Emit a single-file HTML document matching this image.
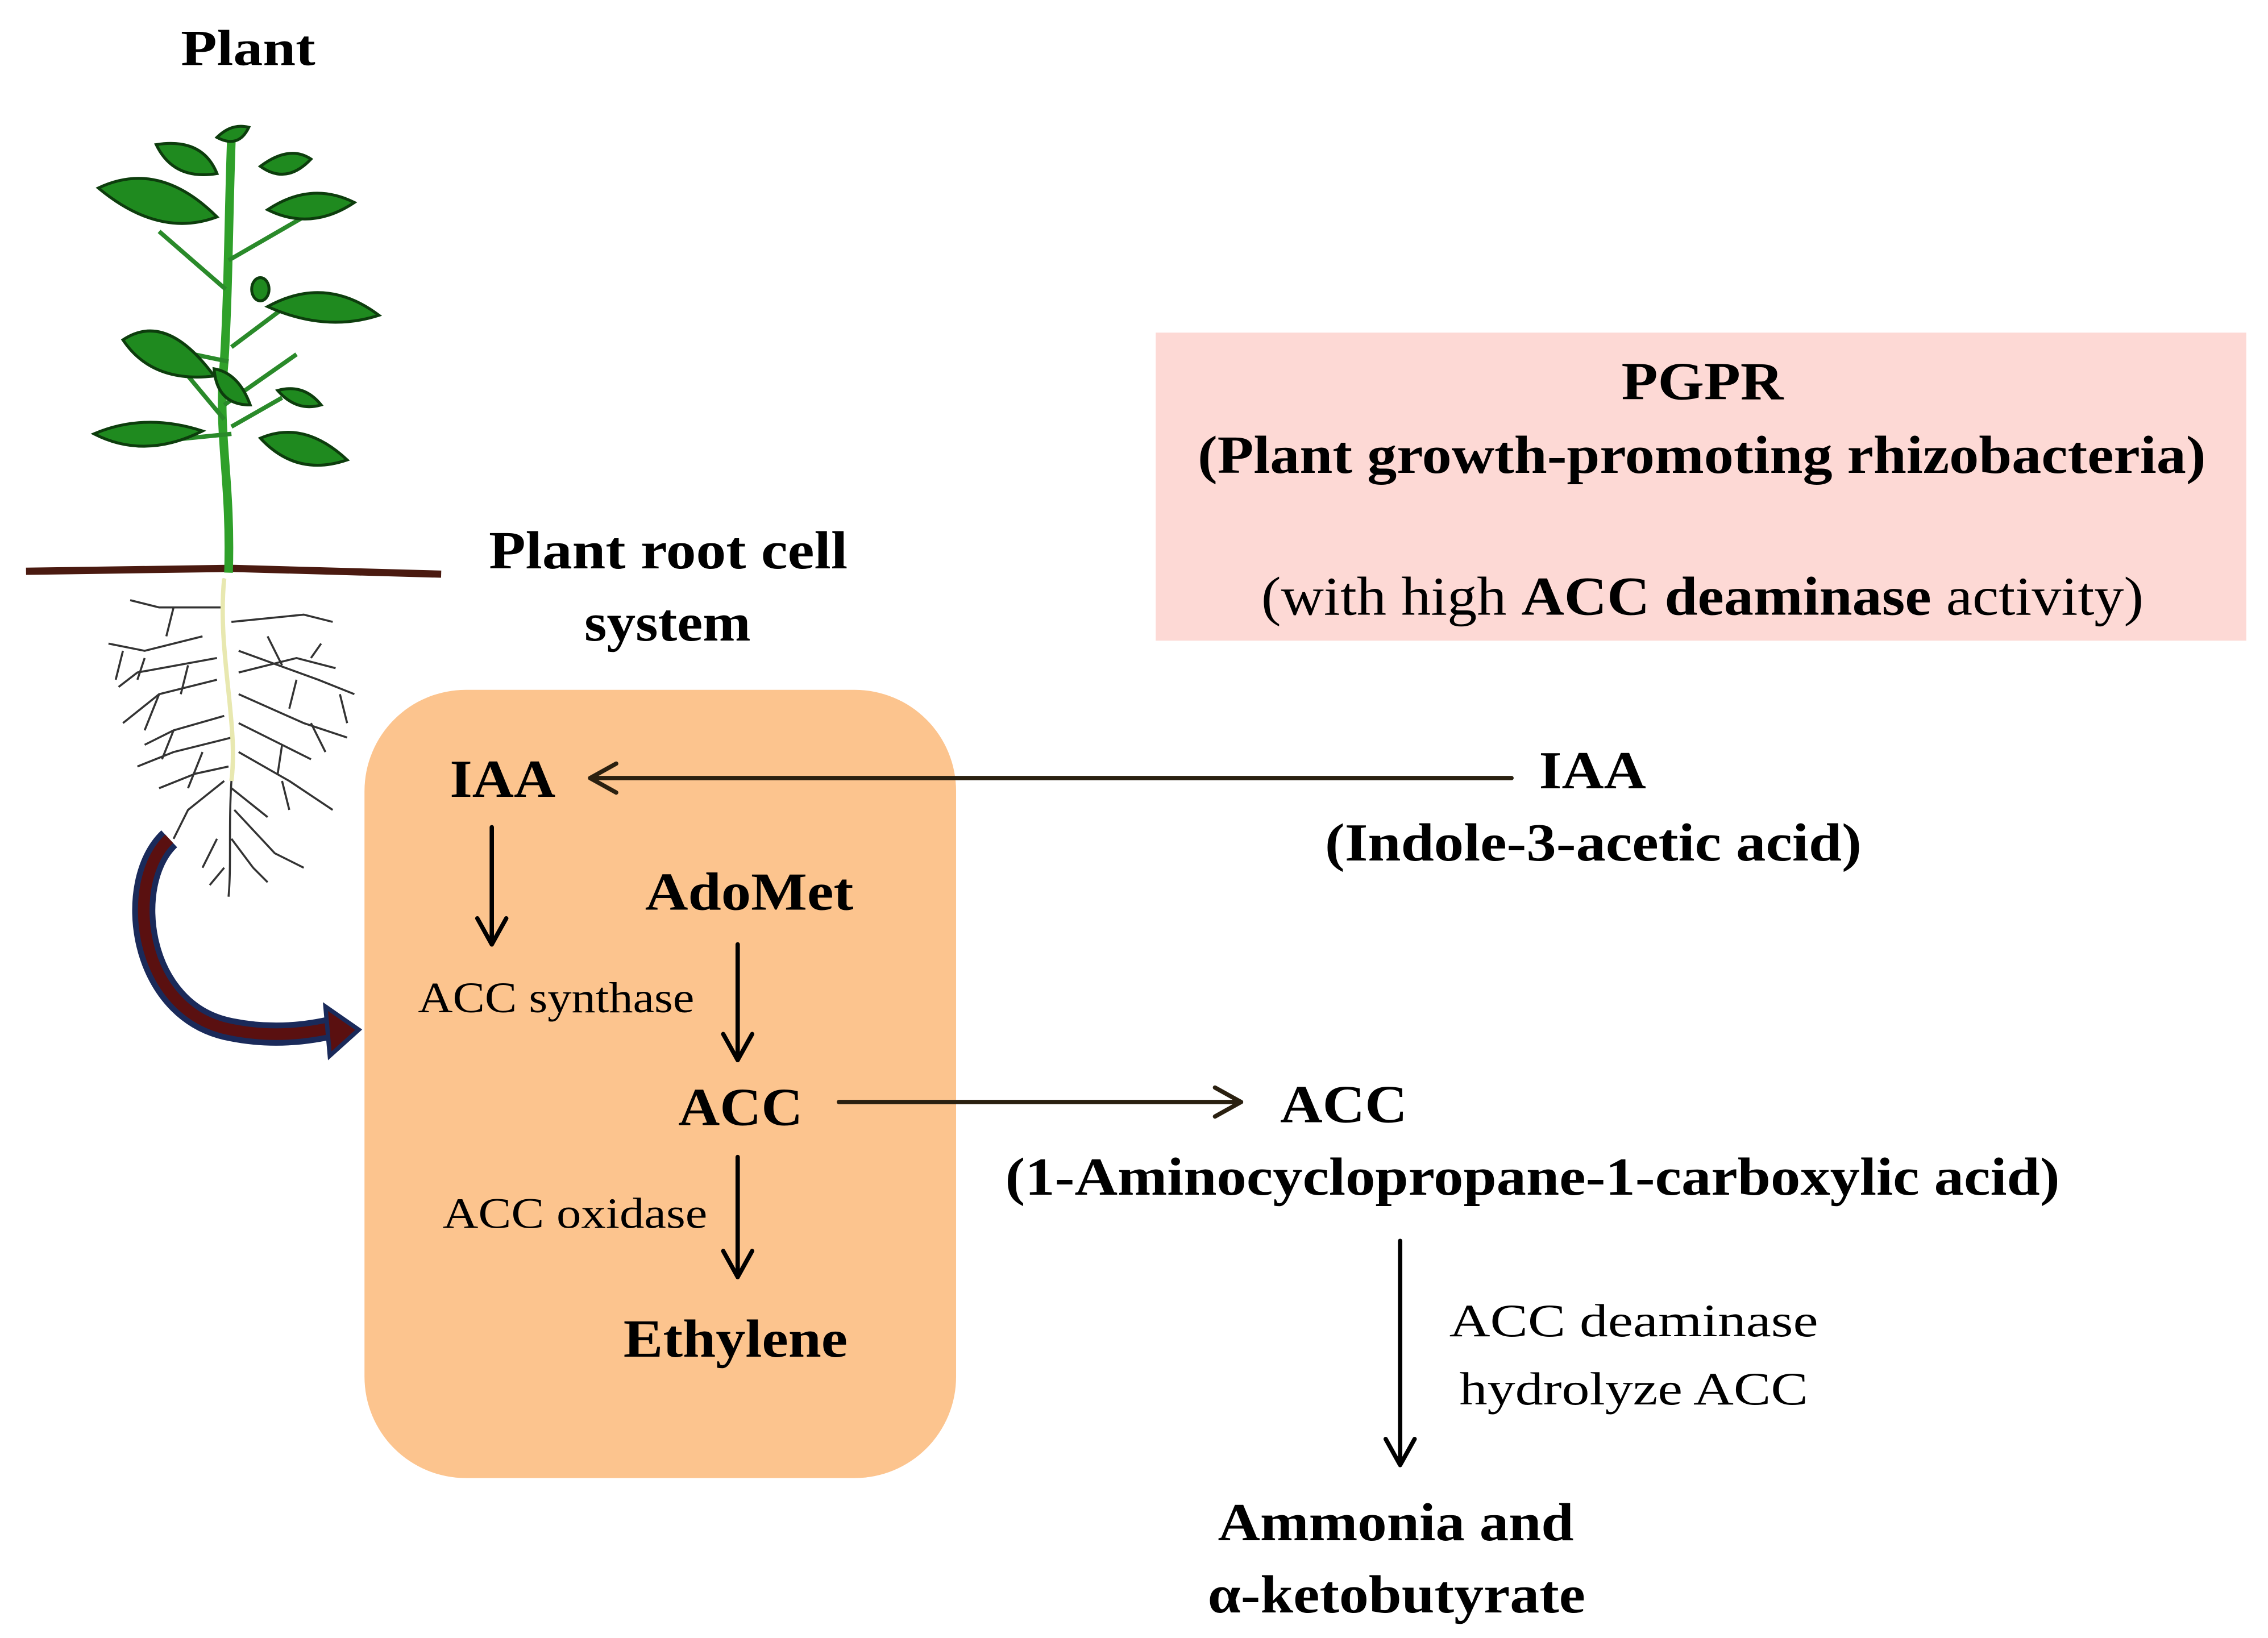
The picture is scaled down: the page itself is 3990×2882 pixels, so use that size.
<!DOCTYPE html>
<html><head><meta charset="utf-8"><style>
html,body{margin:0;padding:0;background:#fff;}
svg{display:block;}
text{font-family:"Liberation Serif",serif;fill:#000;}
.b{font-weight:bold;font-size:37px;}
.r{font-size:30px;}
.big{font-size:38px;}
</style></head><body>
<svg width="3990" height="2882" viewBox="0 0 1568 1132.6" preserveAspectRatio="none" xmlns="http://www.w3.org/2000/svg">
<rect x="799" y="230" width="754" height="213" fill="#fdd9d5"/>
<rect x="252" y="477" width="409" height="545" rx="70" ry="70" fill="#fcc48e"/>

<text x="125" y="45" class="b" style="font-size:35px" textLength="93" lengthAdjust="spacingAndGlyphs">Plant</text>
<text x="338" y="393" class="b" textLength="248" lengthAdjust="spacingAndGlyphs">Plant root cell</text>
<text x="404" y="443" class="b" textLength="115" lengthAdjust="spacingAndGlyphs">system</text>

<text x="1121" y="276" class="b" textLength="112" lengthAdjust="spacingAndGlyphs">PGPR</text>
<text x="828" y="327" class="b" textLength="697" lengthAdjust="spacingAndGlyphs">(Plant growth-promoting rhizobacteria)</text>
<text x="872" y="425" class="big" textLength="610" lengthAdjust="spacingAndGlyphs">(with high <tspan font-weight="bold">ACC deaminase</tspan> activity)</text>

<text x="311" y="551" class="b" textLength="73" lengthAdjust="spacingAndGlyphs">IAA</text>
<text x="446" y="629" class="b" textLength="144" lengthAdjust="spacingAndGlyphs">AdoMet</text>
<text x="289" y="700" class="r" textLength="191" lengthAdjust="spacingAndGlyphs">ACC synthase</text>
<text x="469" y="778" class="b" textLength="86" lengthAdjust="spacingAndGlyphs">ACC</text>
<text x="306" y="849" class="r" textLength="183" lengthAdjust="spacingAndGlyphs">ACC oxidase</text>
<text x="431" y="938" class="b" textLength="155" lengthAdjust="spacingAndGlyphs">Ethylene</text>

<text x="1064" y="545" class="b" textLength="74" lengthAdjust="spacingAndGlyphs">IAA</text>
<text x="916" y="595" class="b" textLength="371" lengthAdjust="spacingAndGlyphs">(Indole-3-acetic acid)</text>
<text x="885" y="776" class="b" textLength="88" lengthAdjust="spacingAndGlyphs">ACC</text>
<text x="695" y="826" class="b" textLength="729" lengthAdjust="spacingAndGlyphs">(1-Aminocyclopropane-1-carboxylic acid)</text>
<text x="1002" y="924" class="r" style="font-size:32px" textLength="255" lengthAdjust="spacingAndGlyphs">ACC deaminase</text>
<text x="1009" y="971" class="r" style="font-size:32px" textLength="241" lengthAdjust="spacingAndGlyphs">hydrolyze ACC</text>
<text x="842" y="1065" class="b" textLength="246" lengthAdjust="spacingAndGlyphs">Ammonia and</text>
<text x="835" y="1115" class="b" textLength="261" lengthAdjust="spacingAndGlyphs">α-ketobutyrate</text>

<g stroke="#000" stroke-width="3" fill="none" stroke-linecap="round" stroke-linejoin="round">
<line x1="1045" y1="538" x2="408" y2="538" stroke="#2a2010"/>
<polyline points="426,528 408,538 426,548" stroke="#2a2010"/>
<line x1="340" y1="572" x2="340" y2="653"/>
<polyline points="330,635 340,653 350,635"/>
<line x1="510" y1="653" x2="510" y2="733"/>
<polyline points="500,715 510,733 520,715"/>
<line x1="580" y1="762" x2="858" y2="762" stroke="#2a2010"/>
<polyline points="840,752 858,762 840,772" stroke="#2a2010"/>
<line x1="510" y1="800" x2="510" y2="883"/>
<polyline points="500,865 510,883 520,865"/>
<line x1="968" y1="858" x2="968" y2="1013"/>
<polyline points="958,995 968,1013 978,995"/>
</g>

<path d="M18,395 L160,393 L305,397" stroke="#4a1a10" stroke-width="5" fill="none"/>
<g stroke="#333" stroke-width="1.4" fill="none">
<path d="M155,400 C150,450 165,500 160,540 C158,570 160,600 158,620"/>
<path d="M155,420 L110,420 L90,415 M140,440 L100,450 L75,445 M150,470 L110,480 L85,500 M160,430 L210,425 L230,430 M165,450 L220,470 L245,480 M165,480 L210,500 L240,510 M160,510 L120,520 L95,530 M165,520 L200,540 L230,560 M155,540 L130,560 L120,580 M162,560 L190,590 L210,600 M150,580 L140,600 M120,420 L115,440 M205,470 L200,490 M110,480 L100,505 M215,500 L225,520 M130,460 L125,480 M185,440 L195,460 M140,520 L130,545 M195,540 L200,560 M85,450 L80,470 M235,480 L240,500
M150,455 L95,465 L82,475 M165,465 L205,455 L232,462 M155,495 L120,505 L100,515 M165,500 L195,515 L215,525 M158,530 L135,535 L110,545 M160,545 L185,565 M160,580 L175,600 M155,600 L145,612 M100,455 L95,470 M215,455 L222,445 M120,505 L112,525 M195,515 L192,535 M175,600 L185,610"/>
</g>
<path d="M155,400 C150,450 165,500 160,540" stroke="#e8e8b0" stroke-width="3" fill="none"/>
<path d="M158,396 C160,330 150,300 155,250 C158,200 158,150 160,95" stroke="#2fa02a" stroke-width="6" fill="none"/>
<g stroke="#2a8a2a" stroke-width="3" fill="none">
<path d="M155,280 L205,245 M155,290 L130,260 M158,180 L210,150 M156,200 L110,160 M158,250 L110,240 M160,300 L110,305 M160,295 L195,275 M160,240 L200,210"/>
</g>
<g fill="#1f8a1f" stroke="#0d3d0d" stroke-width="2">
<path d="M68,130 Q110,110 150,150 Q110,165 68,130Z"/>
<path d="M108,100 Q140,95 150,120 Q120,125 108,100Z"/>
<path d="M185,145 Q215,125 245,140 Q215,160 185,145Z"/>
<path d="M180,115 Q200,100 215,110 Q198,128 180,115Z"/>
<path d="M150,95 Q160,85 172,88 Q165,103 150,95Z"/>
<path d="M185,212 Q225,190 262,218 Q225,230 185,212Z"/>
<path d="M85,235 Q115,215 148,260 Q105,265 85,235Z"/>
<path d="M148,255 Q165,258 173,280 Q150,280 148,255Z"/>
<path d="M192,270 Q210,265 222,280 Q205,285 192,270Z"/>
<path d="M65,300 Q100,285 140,298 Q100,318 65,300Z"/>
<path d="M180,303 Q210,290 240,318 Q205,330 180,303Z"/>
<ellipse cx="180" cy="200" rx="6" ry="8"/>
</g>
<path d="M117,580 C85,610 95,700 160,712 C190,718 215,714 232,710" stroke="#1a2a5a" stroke-width="16" fill="none"/>
<path d="M117,580 C85,610 95,700 160,712 C190,718 215,714 232,710" stroke="#5a1010" stroke-width="8" fill="none"/>
<polygon points="225,696 248,712 228,730" fill="#5a1010" stroke="#1a2a5a" stroke-width="3"/>
</svg>
</body></html>
